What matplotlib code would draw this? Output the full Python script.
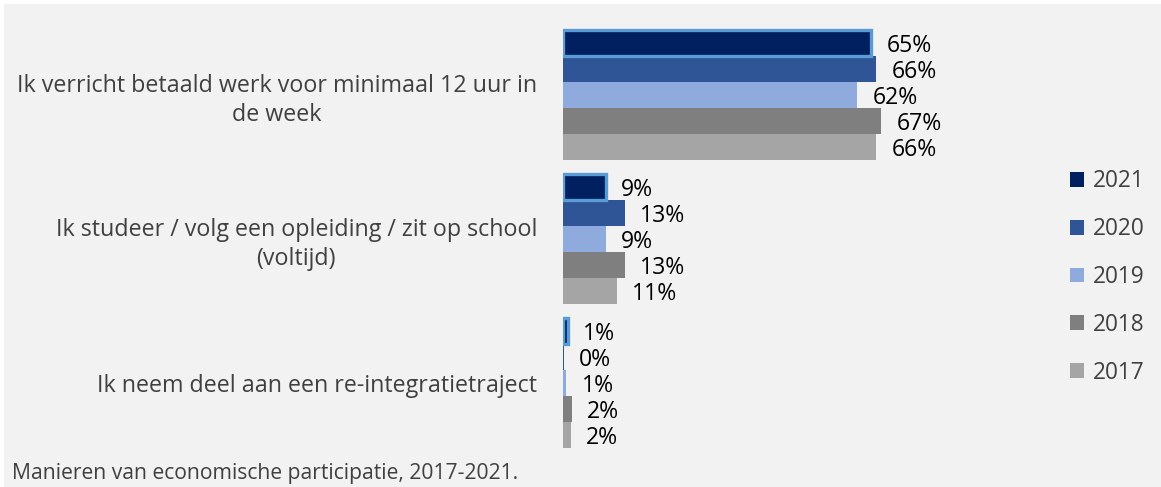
import matplotlib
matplotlib.use("Agg")
import matplotlib.pyplot as plt
from matplotlib.patches import Patch, Rectangle

categories = [
    "Ik verricht betaald werk voor minimaal 12 uur in\nde week",
    "Ik studeer / volg een opleiding / zit op school\n(voltijd)",
    "Ik neem deel aan een re-integratietraject",
]
years = ["2021", "2020", "2019", "2018", "2017"]
values = {
    "2021": [65, 9, 1.0],
    "2020": [66, 13, 0.2],
    "2019": [62, 9, 0.7],
    "2018": [67, 13, 1.8],
    "2017": [66, 11.4, 1.6],
}
colors = {
    "2021": "#002060",
    "2020": "#2f5597",
    "2019": "#8faadc",
    "2018": "#7f7f7f",
    "2017": "#a5a5a5",
}
caption = "Manieren van economische participatie, 2017-2021."

W, H = 1161, 487
fig = plt.figure(figsize=(W / 100, H / 100), dpi=100, facecolor="white")
fig.patches.append(Rectangle((4 / W, 0), 1, (H - 4) / H, transform=fig.transFigure,
                             facecolor="#f2f2f2", edgecolor="none", zorder=-10))

FONT = "Open Sans"
plt.rcParams["font.family"] = [FONT, "DejaVu Sans"]

ax = fig.add_axes([563 / W, 1 - 455 / H, 474.6 / W, (455 - 23) / H])
ax.set_facecolor("none")
for s in ax.spines.values():
    s.set_visible(False)

h = 26 / 144
n = len(years)
for j, yr in enumerate(years):
    offs = (j - (n - 1) / 2) * h
    ys = [i + offs for i in range(len(categories))]
    if yr == "2021":
        ax.barh(ys, values[yr], height=h, color=colors[yr],
                edgecolor="#5b9bd5", linewidth=2.4, zorder=3)
    else:
        ax.barh(ys, values[yr], height=h, color=colors[yr],
                edgecolor="none", zorder=2)
    for y, v in zip(ys, values[yr]):
        ax.annotate(f"{v:.0f}%", xy=(v, y), xytext=(11, -2), textcoords="offset points",
                    ha="left", va="center", fontsize=16.6, color="#000000")

ax.set_xlim(0, 100)
ax.set_ylim(2.5, -0.5)
ax.set_xticks([])
ax.set_yticks(range(len(categories)))
ax.set_yticklabels(categories)
ax.tick_params(axis="y", length=0, pad=18.7)

# fit category label font size to reference width
fig.canvas.draw()
r = fig.canvas.get_renderer()
t = fig.text(0, 0, "Ik verricht betaald werk voor minimaal 12 uur in", fontsize=10)
wpx = t.get_window_extent(renderer=r).width
t.remove()
cat_fs = 10 * 519 / wpx
for lab in ax.get_yticklabels():
    lab.set_fontsize(cat_fs)
    lab.set_multialignment("center")
    lab.set_color("#404040")
    lab.set_linespacing(1.25)

handles = [Patch(facecolor=colors[y], edgecolor="none", label=y) for y in years]
leg = fig.legend(handles=handles, loc="center left", bbox_to_anchor=(1070 / W, 1 - 277 / H),
                 frameon=False, fontsize=16.3, handlelength=0.62, handleheight=0.62,
                 handletextpad=0.4, labelspacing=1.05, borderaxespad=0, borderpad=0)
for tx in leg.get_texts():
    tx.set_color("#404040")

fig.text(12 / W, 1 - 479 / H, caption, ha="left", va="baseline", fontsize=15.2, color="#404040")

fig.savefig("out.png", dpi=100, facecolor=fig.get_facecolor())
